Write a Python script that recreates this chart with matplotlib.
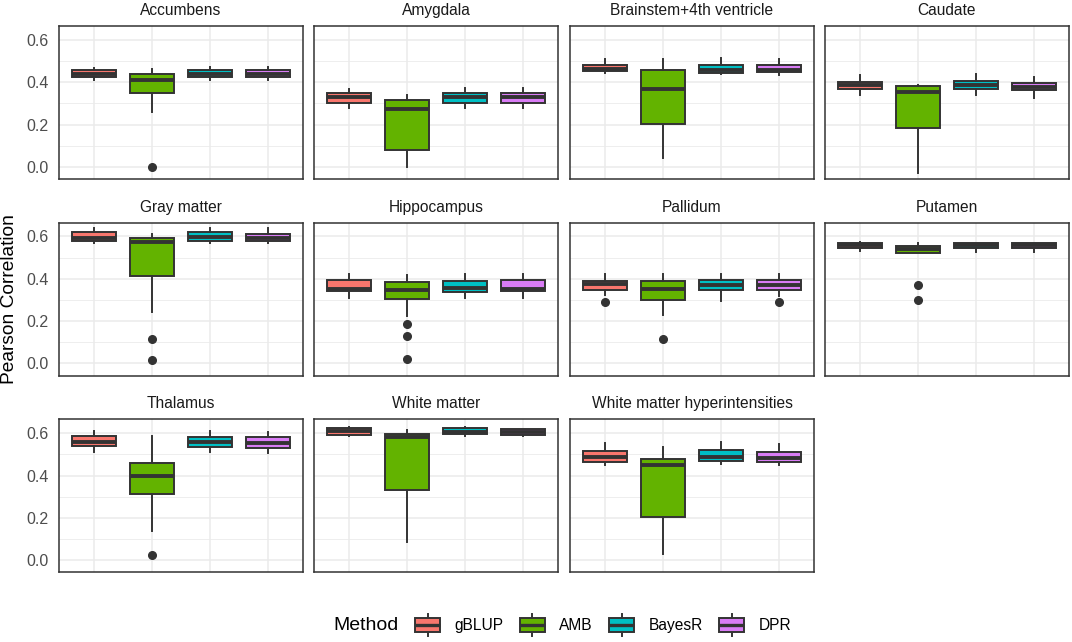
import matplotlib
matplotlib.use("Agg")
import matplotlib.pyplot as plt
from matplotlib.patches import Patch, Rectangle
from matplotlib.lines import Line2D
from matplotlib.legend_handler import HandlerBase

plt.rcParams['font.family'] = ['Liberation Sans', 'DejaVu Sans']

regions = ["Accumbens", "Amygdala", "Brainstem+4th ventricle", "Caudate",
           "Gray matter", "Hippocampus", "Pallidum", "Putamen",
           "Thalamus", "White matter", "White matter hyperintensities"]
methods = ["gBLUP", "AMB", "BayesR", "DPR"]
colors = ["#F8766D", "#63B300", "#00BFC4", "#D97CF5"]

# box summary per region, one value per method (gBLUP, AMB, BayesR, DPR)
q1 = [[0.427, 0.351, 0.426, 0.427],
      [0.304, 0.078, 0.304, 0.304],
      [0.451, 0.204, 0.446, 0.448],
      [0.367, 0.184, 0.370, 0.364],
      [0.579, 0.412, 0.579, 0.579],
      [0.341, 0.304, 0.338, 0.341],
      [0.349, 0.298, 0.347, 0.349],
      [0.546, 0.521, 0.546, 0.546],
      [0.540, 0.311, 0.536, 0.532],
      [0.591, 0.332, 0.596, 0.591],
      [0.463, 0.205, 0.471, 0.463]]
med = [[0.439, 0.410, 0.440, 0.440],
       [0.331, 0.272, 0.331, 0.331],
       [0.463, 0.367, 0.459, 0.459],
       [0.385, 0.353, 0.386, 0.376],
       [0.593, 0.576, 0.598, 0.594],
       [0.354, 0.349, 0.357, 0.354],
       [0.375, 0.354, 0.373, 0.373],
       [0.559, 0.540, 0.559, 0.559],
       [0.561, 0.400, 0.561, 0.556],
       [0.613, 0.583, 0.608, 0.607],
       [0.487, 0.450, 0.490, 0.483]]
q3 = [[0.457, 0.437, 0.456, 0.456],
      [0.350, 0.318, 0.350, 0.350],
      [0.481, 0.457, 0.484, 0.480],
      [0.402, 0.381, 0.407, 0.397],
      [0.619, 0.594, 0.622, 0.614],
      [0.394, 0.384, 0.390, 0.392],
      [0.390, 0.389, 0.395, 0.392],
      [0.570, 0.553, 0.570, 0.570],
      [0.585, 0.461, 0.583, 0.580],
      [0.627, 0.596, 0.626, 0.622],
      [0.515, 0.477, 0.521, 0.512]]
whislo = [[0.413, 0.260, 0.413, 0.413],
          [0.280, 0.000, 0.280, 0.280],
          [0.443, 0.043, 0.437, 0.434],
          [0.339, -0.028, 0.340, 0.328],
          [0.571, 0.245, 0.571, 0.571],
          [0.308, 0.222, 0.308, 0.308],
          [0.325, 0.230, 0.295, 0.318],
          [0.529, 0.521, 0.525, 0.528],
          [0.513, 0.140, 0.510, 0.507],
          [0.585, 0.084, 0.588, 0.586],
          [0.450, 0.028, 0.453, 0.449]]
whishi = [[0.468, 0.462, 0.472, 0.470],
          [0.367, 0.340, 0.375, 0.375],
          [0.511, 0.510, 0.513, 0.510],
          [0.435, 0.389, 0.438, 0.424],
          [0.641, 0.614, 0.638, 0.638],
          [0.424, 0.416, 0.425, 0.425],
          [0.421, 0.421, 0.421, 0.421],
          [0.575, 0.571, 0.570, 0.570],
          [0.610, 0.586, 0.610, 0.607],
          [0.630, 0.615, 0.630, 0.622],
          [0.553, 0.534, 0.561, 0.548]]
outliers = {("Accumbens", "AMB"): [0.0],
            ("Gray matter", "AMB"): [0.115, 0.018],
            ("Hippocampus", "AMB"): [0.188, 0.131, 0.022],
            ("Pallidum", "gBLUP"): [0.292],
            ("Pallidum", "AMB"): [0.115],
            ("Pallidum", "DPR"): [0.290],
            ("Putamen", "AMB"): [0.370, 0.300],
            ("Thalamus", "AMB"): [0.025]}

W, H = 1072, 642
col_left = [59, 314, 570, 825]
row_top = [26, 222.5, 419.3]
pw, ph = 244, 153
dark = "#333333"

fig = plt.figure(figsize=(W / 100, H / 100), dpi=100)

for i, region in enumerate(regions):
    r, c = divmod(i, 4)
    ax = fig.add_axes([col_left[c] / W, 1 - (row_top[r] + ph) / H, pw / W, ph / H])
    stats = []
    for j, m in enumerate(methods):
        stats.append(dict(q1=q1[i][j], med=med[i][j], q3=q3[i][j],
                          whislo=whislo[i][j], whishi=whishi[i][j],
                          fliers=outliers.get((region, m), []), label=m))
    bp = ax.bxp(stats, positions=[1, 2, 3, 4], widths=0.75, patch_artist=True,
                showcaps=False,
                boxprops=dict(edgecolor=dark, linewidth=1.4),
                medianprops=dict(color=dark, linewidth=2.8, solid_capstyle='butt'),
                whiskerprops=dict(color=dark, linewidth=1.4),
                flierprops=dict(marker='o', markerfacecolor=dark, markeredgecolor=dark,
                                markersize=5.5))
    for box, col in zip(bp['boxes'], colors):
        box.set_facecolor(col)

    ax.set_xlim(0.4, 4.6)
    ax.set_ylim(-0.057, 0.666)
    ax.set_xticks([1, 2, 3, 4])
    ax.set_xticklabels([])
    ax.set_yticks([0.0, 0.2, 0.4, 0.6])
    ax.set_yticks([0.1, 0.3, 0.5], minor=True)
    if c == 0:
        ax.set_yticklabels(["0.0", "0.2", "0.4", "0.6"])
    else:
        ax.set_yticklabels([])
    ax.tick_params(axis='both', which='both', length=0)
    ax.tick_params(axis='y', labelsize=11.5, labelcolor='#4D4D4D', pad=7.5)
    ax.grid(which='major', color='#EBEBEB', linewidth=1.1)
    ax.grid(which='minor', axis='y', color='#EBEBEB', linewidth=0.6)
    ax.set_axisbelow(True)
    for sp in ax.spines.values():
        sp.set_color(dark)
        sp.set_linewidth(1.1)
    ax.set_title(region, fontsize=11.2, pad=7.9, color='#1A1A1A')

fig.text(10 / W, 1 - 299 / H, "Pearson Correlation", rotation=90,
         va='center', ha='center', fontsize=13.75)


class BoxKey(HandlerBase):
    def create_artists(self, legend, orig_handle, xdescent, ydescent,
                       width, height, fontsize, trans):
        x0, y0 = -xdescent, -ydescent
        cx, cy = x0 + width / 2, y0 + height / 2
        bh = height * 0.63
        rect = Rectangle((x0, cy - bh / 2), width, bh,
                         facecolor=orig_handle.get_facecolor(), edgecolor=dark,
                         linewidth=1.4, transform=trans)
        mline = Line2D([x0, x0 + width], [cy, cy], color=dark, linewidth=2.4,
                       solid_capstyle='butt', transform=trans)
        w1 = Line2D([cx, cx], [y0, cy - bh / 2], color=dark, linewidth=1.4, transform=trans)
        w2 = Line2D([cx, cx], [cy + bh / 2, y0 + height], color=dark, linewidth=1.4,
                    transform=trans)
        return [w1, w2, rect, mline]


fig.text(333 / W, 1 - 625 / H, "Method", fontsize=14, va='center', ha='left')
handles = [Patch(facecolor=col) for col in colors]
fig.legend(handles, methods, handler_map={Patch: BoxKey()}, loc='center left',
           bbox_to_anchor=(415 / W, 1 - 625 / H), ncol=4, frameon=False, fontsize=11.2,
           handlelength=1.63, handleheight=1.75, handletextpad=0.9, columnspacing=1.05,
           borderpad=0, borderaxespad=0)

fig.savefig("out.png", dpi=100)
